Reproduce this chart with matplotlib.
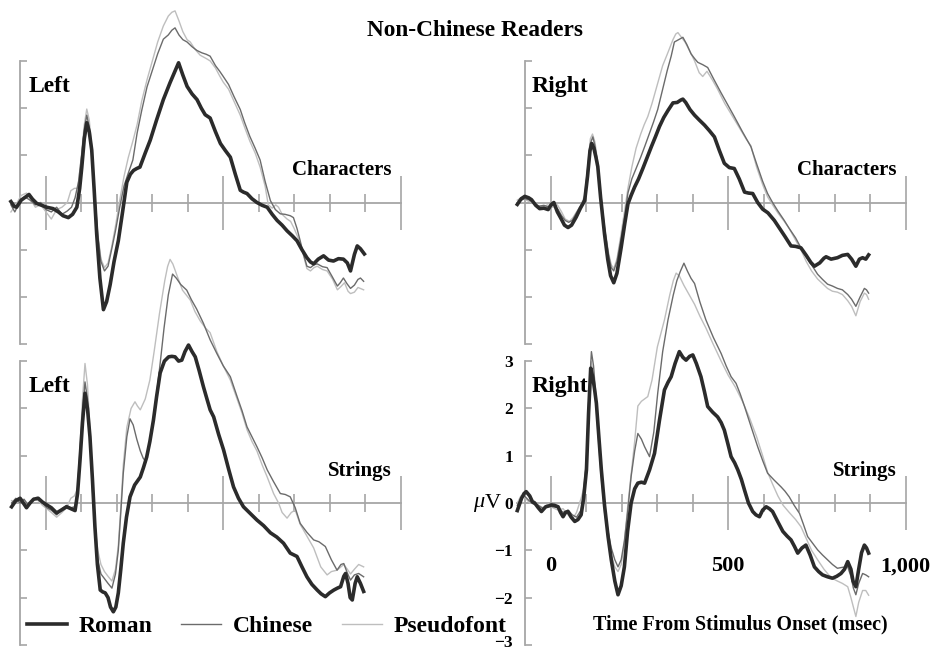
import matplotlib
matplotlib.use('Agg')
import matplotlib.pyplot as plt
from matplotlib.lines import Line2D
from matplotlib.transforms import ScaledTranslation

# ERP waveforms, time in msec, amplitude in microvolts

# --- left hemisphere, characters ---
t_tl_roman = [-99, -90, -83, -70, -57, -48, -38, -26, -12, 2, 20, 35, 48, 63, 75, 87, 95, 101, 108, 115,
              122, 129, 136, 143, 152, 162, 171, 181, 192, 204, 216, 228, 238, 247, 256, 265, 280, 294,
              312, 331, 350, 362, 374, 386, 398, 412, 426, 438, 449, 463, 478, 492, 506, 520, 534, 548,
              557, 567, 581, 595, 610, 624, 638, 652, 666, 680, 694, 708, 722, 736, 746, 755, 768, 783,
              797, 811, 825, 839, 850, 859, 870, 878, 887, 898]
uv_tl_roman = [0.02, -0.08, -0.1, 0.05, 0.12, 0.17, 0.07, -0.02, -0.06, -0.1, -0.13, -0.2, -0.28, -0.32,
               -0.25, -0.1, 0.3, 0.75, 1.35, 1.69, 1.5, 1.11, 0.25, -0.67, -1.6, -2.27, -2.1, -1.74, -1.25,
               -0.81, -0.2, 0.43, 0.6, 0.68, 0.72, 0.75, 1.05, 1.32, 1.75, 2.18, 2.54, 2.75, 2.96, 2.7,
               2.46, 2.3, 2.18, 2.0, 1.86, 1.79, 1.5, 1.25, 1.1, 0.96, 0.6, 0.26, 0.22, 0.19, 0.08, 0.0,
               -0.06, -0.1, -0.25, -0.38, -0.48, -0.6, -0.7, -0.81, -1.0, -1.17, -1.26, -1.3, -1.2, -1.13,
               -1.22, -1.24, -1.19, -1.2, -1.28, -1.45, -1.1, -0.92, -0.98, -1.09]
t_tl_chinese = [-99, -88, -75, -60, -45, -30, -15, 0, 15, 30, 45, 60, 72, 82, 92, 102, 108, 115, 122, 130,
                138, 146, 155, 165, 175, 185, 196, 208, 220, 232, 245, 257, 270, 285, 300, 315, 331, 345,
                355, 364, 375, 386, 398, 412, 426, 440, 452, 463, 478, 490, 500, 515, 530, 548, 560, 575,
                590, 604, 618, 633, 647, 661, 674, 689, 698, 708, 717, 726, 736, 746, 756, 765, 780, 793,
                808, 822, 830, 839, 849, 859, 870, 880, 887, 896]
uv_tl_chinese = [-0.05, -0.2, 0.0, 0.12, 0.05, -0.05, 0.0, -0.15, -0.2, -0.1, -0.25, -0.18, -0.1, 0.1, 0.45,
                 1.1, 1.55, 1.85, 1.6, 1.0, 0.1, -0.7, -1.25, -1.45, -1.35, -1.0, -0.6, -0.1, 0.35, 0.62,
                 0.9, 1.47, 1.95, 2.45, 2.8, 3.15, 3.46, 3.55, 3.65, 3.7, 3.55, 3.45, 3.4, 3.3, 3.22, 3.17,
                 3.14, 3.1, 2.9, 2.78, 2.67, 2.5, 2.25, 1.97, 1.7, 1.4, 1.15, 0.9, 0.45, 0.04, -0.15, -0.24,
                 -0.25, -0.28, -0.32, -0.55, -0.81, -1.09, -1.35, -1.38, -1.32, -1.3, -1.36, -1.38, -1.58,
                 -1.77, -1.7, -1.6, -1.72, -1.82, -1.75, -1.63, -1.6, -1.67]
t_tl_pseudo = [-99, -85, -70, -55, -45, -30, -15, 0, 15, 30, 45, 60, 70, 80, 90, 100, 108, 115, 122, 130,
               138, 146, 155, 165, 175, 185, 196, 208, 220, 232, 245, 257, 270, 285, 300, 315, 331, 345,
               355, 364, 375, 386, 398, 407, 420, 435, 452, 463, 478, 490, 500, 515, 530, 548, 560, 575,
               590, 604, 618, 627, 638, 648, 656, 666, 680, 690, 700, 717, 736, 746, 756, 765, 780, 793,
               808, 822, 832, 842, 852, 859, 870, 880, 896]
uv_tl_pseudo = [-0.2, -0.05, 0.15, 0.2, 0.08, -0.1, -0.05, -0.2, -0.35, -0.15, -0.1, 0.0, 0.25, 0.3, 0.3,
                1.0, 1.65, 1.98, 1.75, 1.1, 0.15, -0.65, -1.2, -1.38, -1.28, -0.95, -0.5, 0.05, 0.55, 0.95,
                1.3, 1.65, 2.15, 2.6, 3.0, 3.4, 3.74, 3.95, 4.03, 4.06, 3.85, 3.62, 3.45, 3.4, 3.25, 3.12,
                3.05, 3.0, 2.85, 2.68, 2.55, 2.4, 2.15, 1.85, 1.6, 1.3, 1.05, 0.75, 0.35, -0.05, -0.12,
                -0.05, -0.1, -0.25, -0.35, -0.4, -0.55, -0.85, -1.4, -1.45, -1.38, -1.35, -1.42, -1.45,
                -1.62, -1.85, -1.78, -1.7, -1.88, -1.93, -1.9, -1.8, -1.85]

# --- right hemisphere, characters ---
t_tr_roman = [-95, -84, -74, -63, -55, -43, -32, -20, -8, 0, 8, 18, 29, 38, 48, 58, 71, 83, 95, 103, 110,
              115, 121, 127, 132, 140, 151, 160, 168, 177, 186, 198, 208, 217, 226, 236, 247, 259, 271,
              283, 295, 306, 318, 330, 344, 356, 366, 372, 380, 392, 405, 418, 433, 447, 461, 475, 489,
              503, 517, 531, 546, 557, 569, 583, 597, 612, 630, 645, 660, 677, 690, 705, 720, 733, 743,
              758, 770, 776, 790, 808, 822, 837, 848, 860, 870, 879, 888, 896]
uv_tr_roman = [-0.04, 0.08, 0.13, 0.1, 0.06, -0.06, -0.13, -0.12, -0.15, -0.05, 0.0, -0.2, -0.35, -0.48,
               -0.53, -0.48, -0.31, -0.12, 0.04, 0.55, 1.1, 1.25, 1.15, 0.95, 0.76, 0.1, -0.67, -1.2,
               -1.55, -1.7, -1.5, -0.95, -0.45, -0.03, 0.15, 0.33, 0.5, 0.72, 0.95, 1.18, 1.4, 1.61, 1.8,
               1.95, 2.11, 2.12, 2.17, 2.19, 2.12, 1.97, 1.85, 1.75, 1.64, 1.52, 1.39, 1.1, 0.83, 0.74,
               0.72, 0.5, 0.22, 0.2, 0.19, 0.0, -0.14, -0.22, -0.38, -0.55, -0.72, -0.92, -0.93, -0.96,
               -1.12, -1.27, -1.35, -1.28, -1.18, -1.15, -1.2, -1.17, -1.12, -1.1, -1.2, -1.35, -1.2,
               -1.17, -1.2, -1.11]
t_tr_chinese = [-95, -84, -74, -63, -50, -35, -20, -5, 8, 20, 30, 40, 50, 60, 72, 85, 95, 104, 111, 118,
                124, 131, 140, 151, 162, 170, 177, 186, 198, 208, 217, 228, 240, 253, 265, 277, 289, 301,
                315, 328, 339, 348, 360, 372, 383, 395, 405, 414, 428, 442, 460, 480, 500, 517, 540, 564,
                580, 597, 611, 625, 640, 658, 672, 690, 705, 720, 735, 752, 766, 780, 794, 808, 822, 837,
                848, 860, 872, 884, 890, 896]
uv_tr_chinese = [-0.04, 0.05, 0.08, 0.06, 0.0, -0.08, -0.06, -0.1, -0.05, -0.15, -0.28, -0.38, -0.42,
                 -0.38, -0.22, -0.05, 0.1, 0.75, 1.25, 1.39, 1.2, 0.85, 0.15, -0.55, -1.1, -1.38, -1.45,
                 -1.25, -0.75, -0.3, 0.2, 0.5, 0.72, 0.96, 1.2, 1.45, 1.7, 1.97, 2.4, 2.8, 3.1, 3.4, 3.45,
                 3.5, 3.35, 3.15, 3.05, 2.97, 2.92, 2.86, 2.6, 2.32, 2.05, 1.82, 1.5, 1.18, 0.82, 0.45,
                 0.19, 0.0, -0.18, -0.38, -0.55, -0.75, -0.96, -1.15, -1.32, -1.52, -1.63, -1.73, -1.77,
                 -1.82, -1.85, -1.95, -2.05, -2.2, -2.0, -1.82, -1.85, -1.92]
t_tr_pseudo = [-95, -84, -70, -55, -40, -25, -10, 5, 18, 30, 40, 52, 62, 72, 85, 95, 104, 111, 117, 124,
               131, 140, 151, 162, 170, 177, 186, 198, 208, 217, 228, 240, 253, 263, 273, 285, 300, 315,
               330, 344, 352, 358, 366, 378, 392, 405, 418, 428, 440, 455, 470, 490, 510, 530, 550, 564,
               580, 597, 611, 625, 640, 658, 672, 690, 705, 720, 735, 752, 766, 780, 794, 808, 822, 837,
               848, 860, 872, 884, 890, 896]
uv_tr_pseudo = [0.05, 0.1, 0.05, 0.0, -0.05, -0.1, -0.05, -0.1, -0.05, -0.2, -0.35, -0.4, -0.32, -0.2,
                -0.05, 0.15, 0.8, 1.35, 1.45, 1.28, 0.9, 0.2, -0.5, -1.05, -1.32, -1.4, -1.2, -0.65, -0.15,
                0.3, 0.75, 1.15, 1.45, 1.65, 1.82, 2.1, 2.5, 2.9, 3.18, 3.45, 3.57, 3.6, 3.52, 3.4, 3.2,
                3.0, 2.75, 2.67, 2.78, 2.6, 2.4, 2.1, 1.85, 1.6, 1.35, 1.2, 0.75, 0.38, 0.12, -0.05,
                -0.22, -0.4, -0.55, -0.8, -1.0, -1.25, -1.45, -1.62, -1.72, -1.82, -1.88, -1.9, -1.95,
                -2.08, -2.2, -2.4, -2.1, -1.92, -1.95, -2.05]

# --- left hemisphere, strings ---
t_bl_roman = [-97, -85, -73, -64, -55, -45, -35, -22, -10, 2, 15, 30, 43, 58, 70, 82, 89, 96, 103, 110,
              117, 124, 131, 138, 145, 153, 160, 167, 175, 182, 190, 197, 204, 211, 218, 227, 237, 250,
              266, 275, 284, 293, 303, 312, 322, 334, 346, 355, 364, 374, 383, 392, 402, 412, 421, 432,
              444, 454, 463, 473, 487, 501, 515, 529, 543, 557, 576, 595, 614, 633, 651, 670, 689, 708,
              722, 736, 750, 765, 776, 788, 800, 812, 822, 831, 840, 845, 852, 858, 864, 872, 878, 887,
              896]
uv_bl_roman = [-0.08, 0.05, 0.1, 0.0, -0.1, 0.0, 0.08, 0.1, 0.02, -0.04, -0.1, -0.21, -0.15, -0.08, -0.12,
               -0.16, 0.2, 0.91, 1.7, 2.32, 2.0, 1.4, 0.5, -0.5, -1.3, -1.84, -1.88, -1.9, -2.0, -2.2,
               -2.3, -2.2, -1.9, -1.4, -0.85, -0.3, 0.13, 0.38, 0.55, 0.75, 0.97, 1.3, 1.75, 2.25, 2.75,
               3.0, 3.09, 3.1, 3.09, 3.0, 3.02, 3.2, 3.34, 3.2, 3.09, 2.8, 2.46, 2.2, 1.97, 1.82, 1.45,
               1.12, 0.72, 0.34, 0.1, -0.08, -0.22, -0.36, -0.48, -0.63, -0.72, -0.85, -1.06, -1.13,
               -1.35, -1.56, -1.72, -1.84, -1.92, -1.98, -1.9, -1.84, -1.8, -1.77, -1.55, -1.49, -1.7,
               -2.0, -2.05, -1.7, -1.56, -1.7, -1.87]
t_bl_chinese = [-97, -85, -73, -62, -50, -38, -25, -10, 2, 15, 30, 45, 58, 70, 82, 89, 96, 103, 110, 117,
                124, 131, 138, 146, 155, 165, 175, 186, 196, 204, 211, 218, 228, 237, 246, 256, 266, 274,
                282, 293, 303, 312, 322, 333, 345, 357, 368, 380, 397, 410, 425, 444, 463, 482, 500, 520,
                539, 553, 567, 581, 595, 610, 624, 642, 661, 675, 689, 703, 717, 736, 755, 770, 788, 805,
                821, 832, 840, 850, 859, 870, 882, 896]
uv_bl_chinese = [0.0, 0.1, 0.0, 0.08, -0.05, 0.05, 0.12, 0.0, -0.1, -0.15, -0.25, -0.12, -0.05, -0.1,
                 -0.08, 0.3, 1.1, 1.9, 2.56, 2.2, 1.4, 0.3, -0.6, -1.2, -1.5, -1.6, -1.7, -1.8, -1.5, -1.0,
                 -0.2, 0.63, 1.4, 1.78, 1.65, 1.35, 1.1, 0.95, 0.87, 1.3, 1.8, 2.3, 2.95, 3.7, 4.4, 4.84,
                 4.75, 4.62, 4.5, 4.3, 4.1, 3.8, 3.45, 3.16, 2.9, 2.67, 2.25, 1.95, 1.61, 1.4, 1.19, 0.95,
                 0.7, 0.45, 0.2, 0.18, 0.13, -0.1, -0.43, -0.62, -0.78, -0.82, -0.92, -1.2, -1.42, -1.3,
                 -1.28, -1.48, -1.63, -1.52, -1.49, -1.56]
t_bl_pseudo = [-97, -85, -73, -60, -48, -35, -22, -10, 2, 15, 30, 45, 58, 70, 80, 89, 96, 103, 110, 117,
               124, 131, 138, 146, 155, 165, 175, 186, 196, 204, 211, 218, 228, 240, 251, 258, 266, 280,
               293, 305, 320, 335, 343, 350, 358, 370, 385, 407, 420, 435, 450, 463, 482, 500, 520, 539,
               553, 567, 581, 595, 610, 624, 642, 656, 666, 680, 692, 703, 717, 736, 755, 775, 793, 805,
               821, 832, 840, 850, 859, 870, 882, 896]
uv_bl_pseudo = [0.05, 0.0, 0.1, 0.05, -0.05, 0.1, 0.05, -0.05, -0.12, -0.2, -0.3, -0.2, -0.1, 0.1, 0.15,
                0.3, 1.2, 2.2, 2.95, 2.5, 1.55, 0.4, -0.45, -1.0, -1.3, -1.45, -1.55, -1.65, -1.4, -0.9,
                -0.1, 0.8, 1.6, 2.0, 2.14, 2.05, 1.97, 2.2, 2.6, 3.2, 4.0, 4.7, 5.0, 5.15, 5.05, 4.8,
                4.5, 4.29, 4.05, 3.85, 3.7, 3.6, 3.2, 2.9, 2.6, 2.2, 1.9, 1.55, 1.3, 1.1, 0.8, 0.55, 0.2,
                0.0, -0.2, -0.32, -0.2, -0.15, -0.45, -0.7, -0.95, -1.35, -1.52, -1.45, -1.42, -1.35,
                -1.3, -1.4, -1.5, -1.4, -1.3, -1.35]

# --- right hemisphere, strings ---
t_br_roman = [-95, -83, -76, -70, -60, -52, -46, -36, -27, -15, -5, 1, 10, 20, 27, 34, 41, 48, 57, 67, 76,
              85, 92, 100, 106, 112, 118, 123, 128, 135, 142, 151, 161, 170, 180, 189, 198, 207, 216, 226,
              236, 245, 255, 264, 278, 292, 306, 320, 330, 339, 350, 362, 372, 381, 391, 400, 410, 423,
              433, 442, 456, 470, 480, 489, 499, 508, 518, 527, 537, 546, 557, 569, 578, 588, 597, 607,
              616, 625, 640, 654, 666, 677, 687, 696, 708, 719, 731, 743, 755, 766, 780, 794, 806, 818,
              828, 837, 846, 852, 860, 868, 876, 884, 890, 896]
uv_br_roman = [-0.16, 0.1, 0.2, 0.24, 0.15, 0.02, 0.0, -0.1, -0.18, -0.08, -0.06, -0.04, -0.05, -0.08,
               -0.2, -0.29, -0.2, -0.18, -0.3, -0.39, -0.35, -0.25, 0.1, 0.7, 1.9, 2.85, 2.65, 2.4, 2.11,
               1.4, 0.7, -0.05, -0.71, -1.2, -1.65, -1.94, -1.75, -1.35, -0.6, 0.0, 0.3, 0.42, 0.44,
               0.42, 0.7, 1.05, 1.75, 2.39, 2.55, 2.67, 2.95, 3.2, 3.08, 3.02, 3.1, 3.13, 2.95, 2.67,
               2.35, 2.04, 1.92, 1.82, 1.7, 1.54, 1.25, 0.98, 0.85, 0.7, 0.5, 0.27, 0.0, -0.18, -0.25,
               -0.29, -0.15, -0.08, -0.12, -0.18, -0.4, -0.6, -0.7, -0.78, -0.92, -1.06, -0.95, -0.89,
               -1.1, -1.35, -1.45, -1.52, -1.56, -1.59, -1.55, -1.49, -1.4, -1.24, -1.4, -1.65, -1.77,
               -1.4, -1.05, -0.89, -0.95, -1.06]
t_br_chinese = [-95, -85, -75, -62, -50, -36, -22, -8, 5, 20, 34, 48, 60, 72, 85, 92, 100, 106, 114, 120,
                126, 133, 142, 151, 161, 170, 180, 189, 198, 207, 216, 226, 236, 245, 255, 264, 278, 290,
                301, 315, 330, 345, 355, 365, 375, 385, 395, 405, 420, 437, 458, 480, 494, 508, 522, 534,
                546, 565, 583, 597, 611, 630, 649, 660, 672, 686, 701, 712, 724, 738, 752, 766, 780, 794,
                808, 822, 837, 846, 853, 860, 868, 879, 888, 896]
uv_br_chinese = [-0.05, 0.1, 0.15, 0.05, -0.02, -0.05, -0.12, -0.05, -0.08, -0.1, -0.2, -0.15, -0.25,
                 -0.3, -0.15, 0.2, 0.9, 2.1, 3.2, 2.9, 2.3, 1.5, 0.6, -0.1, -0.6, -0.95, -1.2, -1.35, -1.2,
                 -0.8, -0.2, 0.56, 1.1, 1.47, 1.35, 1.19, 0.98, 1.5, 2.32, 3.2, 3.87, 4.4, 4.7, 4.9, 5.07,
                 4.9, 4.75, 4.64, 4.25, 3.87, 3.5, 3.16, 2.9, 2.67, 2.53, 2.3, 2.04, 1.6, 1.19, 0.9, 0.63,
                 0.48, 0.34, 0.25, 0.13, -0.05, -0.22, -0.45, -0.71, -0.85, -0.99, -1.1, -1.2, -1.3, -1.38,
                 -1.36, -1.35, -1.55, -1.8, -1.94, -1.7, -1.49, -1.52, -1.56]
t_br_pseudo = [-95, -85, -72, -60, -48, -35, -22, -8, 5, 20, 34, 48, 60, 72, 85, 92, 100, 106, 113, 120,
               126, 133, 142, 151, 161, 170, 180, 189, 198, 207, 216, 226, 236, 245, 255, 264, 273, 285,
               300, 320, 335, 345, 353, 362, 375, 390, 405, 420, 437, 458, 480, 500, 520, 540, 560, 580,
               597, 611, 625, 640, 655, 672, 690, 705, 720, 735, 752, 770, 790, 808, 822, 837, 846, 853,
               860, 868, 879, 888, 896]
uv_br_pseudo = [0.0, 0.15, 0.1, 0.0, 0.05, -0.05, -0.1, -0.02, -0.1, -0.15, -0.12, -0.25, -0.35, -0.2,
                0.1, 0.3, 0.9, 2.0, 3.0, 2.7, 2.15, 1.4, 0.5, -0.2, -0.7, -1.1, -1.35, -1.45, -1.3, -0.85,
                -0.1, 0.6, 1.3, 2.05, 2.15, 2.2, 2.25, 2.6, 3.3, 3.87, 4.4, 4.7, 4.86, 4.8, 4.6, 4.4, 4.2,
                3.95, 3.7, 3.35, 3.0, 2.7, 2.45, 2.15, 1.8, 1.4, 1.0, 0.65, 0.4, 0.15, -0.05, -0.2, -0.35,
                -0.5, -0.75, -1.0, -1.2, -1.4, -1.58, -1.65, -1.7, -1.77, -2.0, -2.2, -2.4, -2.1, -1.85,
                -1.85, -1.95]

conditions = ['Roman', 'Chinese', 'Pseudofont']
x_major = [0, 500, 1000]
x_major_labels = ['0', '500', '1,000']
x_minor = [100, 200, 300, 400, 600, 700, 800, 900]
y_ticks = [-3, -2, -1, 0, 1, 2, 3]

plt.rcParams['font.family'] = ['Liberation Serif', 'DejaVu Serif']
plt.rcParams['font.weight'] = 'bold'

colors = ['#2b2b2b', '#6b6b6b', '#bebebe']
widths = [2.6, 1.0, 1.0]
axis_col = '#a6a6a6'

W, H = 936, 651
fig = plt.figure(figsize=(W / 100, H / 100), dpi=100)

def make_panel(x0, y0, sy, curves, side, cond, labels=False):
    # x0, y0: pixel position of (0 ms, 0 uV); sy: pixels per uV
    sx = 0.3545
    xmin, xmax, ymin, ymax = -130, 1030, -3.5, 5.6
    bot = y0 - sy * ymin
    top = y0 - sy * ymax
    ax = fig.add_axes([(x0 + sx * xmin) / W, (H - bot) / H, sx * (xmax - xmin) / W, (bot - top) / H])
    ax.set_xlim(xmin, xmax)
    ax.set_ylim(ymin, ymax)
    ax.patch.set_visible(False)
    for s in ['top', 'right']:
        ax.spines[s].set_visible(False)
    ax.spines['left'].set_position(('data', -72))
    ax.spines['left'].set_bounds(-3, 3)
    ax.spines['bottom'].set_position(('data', 0))
    ax.spines['bottom'].set_bounds(-95, 1000)
    for s in ['left', 'bottom']:
        ax.spines[s].set_color(axis_col)
        ax.spines[s].set_linewidth(1.3)
    ax.set_yticks(y_ticks)
    ax.set_xticks(x_major)
    ax.set_xticks(x_minor, minor=True)
    ax.tick_params(axis='y', direction='in', length=5, width=1.2, color=axis_col,
                   labelleft=labels, pad=9, labelsize=12.5)
    ax.tick_params(axis='x', which='major', direction='inout', length=39, width=1.2, color=axis_col,
                   labelbottom=labels, pad=19, labelsize=16)
    ax.tick_params(axis='x', which='minor', direction='inout', length=13.5, width=1.2, color=axis_col)
    if labels:
        ax.set_xticklabels(x_major_labels)
    for i in [2, 1, 0]:
        t, v = curves[i]
        ax.plot(t, v, color=colors[i], lw=widths[i], zorder=3 + (2 - i), solid_joinstyle='round')
    ax.text(-48 if side == 'Left' else -55, 2.35, side, fontsize=17, ha='left', va='baseline')
    ax.text(975, 0.58, cond, fontsize=15, ha='right', va='baseline')
    return ax

make_panel(46, 202.5, 47.2, [(t_tl_roman, uv_tl_roman), (t_tl_chinese, uv_tl_chinese),
                              (t_tl_pseudo, uv_tl_pseudo)], 'Left', 'Characters')
make_panel(551, 202.5, 47.2, [(t_tr_roman, uv_tr_roman), (t_tr_chinese, uv_tr_chinese),
                               (t_tr_pseudo, uv_tr_pseudo)], 'Right', 'Characters')
make_panel(46, 503, 47.3, [(t_bl_roman, uv_bl_roman), (t_bl_chinese, uv_bl_chinese),
                            (t_bl_pseudo, uv_bl_pseudo)], 'Left', 'Strings')
ax = make_panel(551, 503, 47.3, [(t_br_roman, uv_br_roman), (t_br_chinese, uv_br_chinese),
                                  (t_br_pseudo, uv_br_pseudo)], 'Right', 'Strings', labels=True)

# lowest tick label sits on the image edge; lift it a touch
lab = ax.yaxis.get_major_ticks()[0].label1
lab.set_transform(lab.get_transform() + ScaledTranslation(0, 2.5 / 72, fig.dpi_scale_trans))

ax.annotate('V', xy=(-72, 0), xytext=(-18, 0), textcoords='offset points', ha='right', va='center',
            fontsize=16, fontweight='normal')
ax.annotate('\u03bc', xy=(-72, 0), xytext=(-30, 0), textcoords='offset points', ha='right', va='center',
            fontsize=16, fontweight='normal', fontstyle='italic')
ax.text(535, -2.68, 'Time From Stimulus Onset (msec)', fontsize=14.5, ha='center', va='baseline')

fig.text(475 / W, 1 - 36 / H, 'Non-Chinese Readers', fontsize=16.8, ha='center', va='baseline')

handles = [Line2D([], [], color=colors[i], lw=widths[i]) for i in range(3)]
fig.legend(handles, conditions, loc='center left', bbox_to_anchor=(27 / W, 1 - 626 / H), ncol=3,
           frameon=False, prop={'size': 17, 'weight': 'bold'}, handlelength=1.7, handletextpad=0.5,
           columnspacing=1.2, borderpad=0, borderaxespad=0)

fig.savefig('out.png', dpi=100)
